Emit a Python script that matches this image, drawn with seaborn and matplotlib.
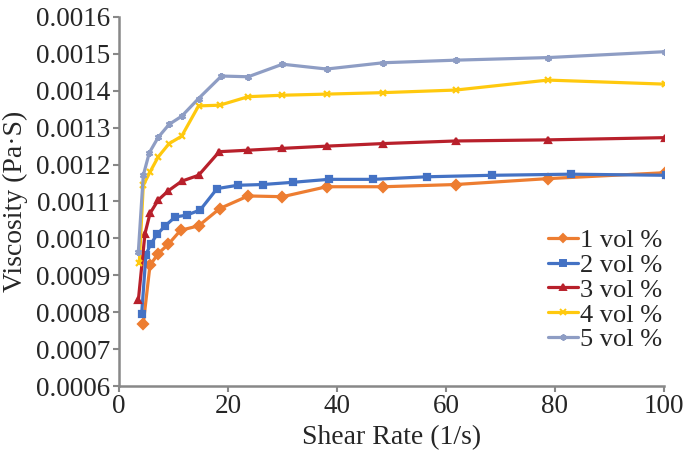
import numpy as np
import pandas as pd
import seaborn as sns
import matplotlib
matplotlib.use('Agg')
import matplotlib.pyplot as plt

# shear rate (1/s) and viscosity (Pa.s)
rate_1 = [4.46, 5.69, 7.2, 9.05, 11.3, 14.6, 18.5, 23.7, 30.0, 38.1, 48.5, 61.8, 78.7, 100.2]
visc_1 = [0.000769, 0.000927, 0.000959, 0.000984, 0.001022, 0.001034, 0.001081, 0.001115,
          0.001113, 0.001140, 0.001140, 0.001146, 0.001162, 0.001178]

rate_2 = [4.16, 4.95, 5.8, 7.0, 8.4, 10.3, 12.4, 14.9, 18.0, 21.8, 26.4, 31.9, 38.5, 46.7,
          56.5, 68.4, 82.9, 100.4]
visc_2 = [0.000796, 0.000956, 0.000984, 0.001011, 0.001033, 0.001058, 0.001063, 0.001077,
          0.001135, 0.001144, 0.001146, 0.001152, 0.001160, 0.001160, 0.001167, 0.001171,
          0.001174, 0.001171]

rate_3 = [3.55, 4.77, 5.7, 7.2, 9.05, 11.5, 14.6, 18.4, 23.7, 30.0, 38.1, 48.5, 61.8, 78.7, 100.2]
visc_3 = [0.000832, 0.001013, 0.001068, 0.001104, 0.001129, 0.001155, 0.001171, 0.001235,
          0.001239, 0.001244, 0.001250, 0.001257, 0.001264, 0.001267, 0.001273]

rate_4 = [3.73, 4.46, 5.69, 7.2, 9.2, 11.5, 14.6, 18.5, 23.7, 30.0, 38.1, 48.5, 61.8, 78.7, 100.2]
visc_4 = [0.000934, 0.001144, 0.001180, 0.001221, 0.001257, 0.001277, 0.001359, 0.001361,
          0.001384, 0.001388, 0.001391, 0.001395, 0.001402, 0.001429, 0.001418]

rate_5 = [3.55, 4.46, 5.56, 7.2, 9.2, 11.5, 14.6, 18.8, 23.7, 30.0, 38.1, 48.5, 61.8, 78.7, 100.2]
visc_5 = [0.000963, 0.001171, 0.001232, 0.001274, 0.001309, 0.001331, 0.001379, 0.001440,
          0.001438, 0.001472, 0.001459, 0.001476, 0.001483, 0.001490, 0.001506]

labels = ['1 vol %', '2 vol %', '3 vol %', '4 vol %', '5 vol %']
colors = ['#ED7D31', '#4472C4', '#B8202B', '#FFC90E', '#8E9DC4']
markers = ['D', 's', '^', 'x', (6, 2, 0)]

rates = [rate_1, rate_2, rate_3, rate_4, rate_5]
viscs = [visc_1, visc_2, visc_3, visc_4, visc_5]

sns.set_style('white')
plt.rcParams['font.family'] = ['Liberation Serif', 'DejaVu Serif']

fig = plt.figure(figsize=(6.85, 4.53), dpi=100)
ax = fig.add_axes([0.1737, 0.1479, 0.7956, 0.8146])

for lab, r, v, c, m in zip(labels, rates, viscs, colors, markers):
    d = pd.DataFrame({'rate': r, 'visc': v})
    sns.lineplot(data=d, x='rate', y='visc', ax=ax, color=c, marker=m,
                 sort=False, linewidth=2.3, markersize=5, markeredgewidth=1.6,
                 markeredgecolor=c, label=lab)

ax.set_xlim(0, 100)
ax.set_ylim(0.0006, 0.0016)
ax.set_xticks(np.arange(0, 101, 20))
ax.set_yticks(np.arange(0.0006, 0.00161, 0.0001))
ax.yaxis.set_major_formatter(matplotlib.ticker.FormatStrFormatter('%.4f'))
ax.tick_params(axis='both', labelsize=19.5, direction='out', length=4, width=1.5,
               color='#888888', pad=2, left=True, bottom=True)
for s in ['top', 'right']:
    ax.spines[s].set_visible(False)
for s in ['left', 'bottom']:
    ax.spines[s].set_color('#888888')
    ax.spines[s].set_linewidth(1.8)

ax.set_xlabel('Shear Rate (1/s)', fontsize=20, labelpad=4)
ax.set_ylabel('Viscosity (Pa·S)', fontsize=20, labelpad=6)

handles = [plt.Line2D([], [], color=c, marker=m, lw=2.3, ms=4.5, mew=1.4, mec=c)
           for c, m in zip(colors, markers)]
ax.legend(handles, labels, loc='upper left', bbox_to_anchor=(0.767, 0.455),
          frameon=False, fontsize=19, handlelength=1.15, handletextpad=0.08,
          labelspacing=0.05, borderaxespad=0)

fig.savefig('out.png', dpi=100)
